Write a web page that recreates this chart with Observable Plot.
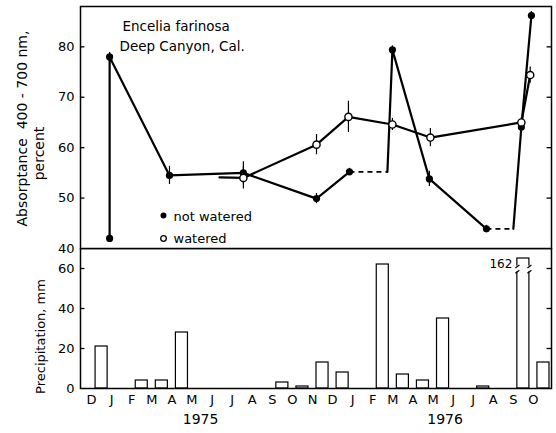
<!DOCTYPE html>
<html><head><meta charset="utf-8">
<script src="https://cdn.jsdelivr.net/npm/d3@7"></script>
<script src="https://cdn.jsdelivr.net/npm/@observablehq/plot@0.6"></script>
<style>
body{margin:0;background:#fff;}
#chart{position:relative;width:556px;height:433px;background:#fff;}
#chart svg{position:absolute;left:0;font-family:"DejaVu Sans",sans-serif;}
</style></head><body><div id="chart"></div>
<script>
// month index: 0 = Dec 1974 ... 22 = Oct 1976
const monthLabels = ["D","J","F","M","A","M","J","J","A","S","O","N","D","J","F","M","A","M","J","J","A","S","O"];
const yearLabels = ["1975","1976"];
const yearMonth = [5.43, 17.6];
const absTicks = [40,50,60,70,80];
const precipTicks = [0,20,40,60];

// monthly precipitation, mm
const precipMonth = [0,2,3,4,9,10,11,12,14,15,16,17,19,21,22];
const precipMM    = [21,4,4,28,3,1,13,8,62,7,4,35,1,162,13];

// absorptance, not watered (filled). measured=0 -> end of dashed gap
const nwMonth    = [0.9,0.9,3.88,7.56,11.2,12.84,14.73,14.98,16.82,19.66,21.0,21.4,21.9];
const nwValue    = [42,78,54.5,55.0,49.9,55.2,55.2,79.4,53.8,43.9,43.9,64.1,86.2];
const nwErr      = [0.8,0.9,1.8,2.2,1.0,0.7,0,0.8,1.5,0.7,0,0.8,0.8];
const nwMeasured = [1,1,1,1,1,1,0,1,1,1,0,1,1];
const nwDashAfter= [0,0,0,0,0,1,0,0,0,1,0,0];

// absorptance, watered (open)
const wMonth    = [6.37,7.56,11.2,12.79,14.98,16.87,21.4,21.84];
const wValue    = [54.1,54.0,60.6,66.1,64.6,62.0,65.0,74.4];
const wErr      = [0,2.2,2.0,3.1,1.2,1.8,1.0,1.6];
const wMeasured = [0,1,1,1,1,1,1,1];

const FONT = '"DejaVu Sans",sans-serif';
const xDomain = [-0.55, 22.9];

let run = 0;
const nw = nwMonth.map((m,i) => {
  const d = {m, v: nwValue[i], e: nwErr[i], meas: nwMeasured[i], run};
  if (nwDashAfter[i]) run++;
  return d;
});
const nwDash = [];
for (let i = 0; i < nw.length-1; i++) if (nwDashAfter[i]) nwDash.push({a: nw[i], b: nw[i+1]});
const w = wMonth.map((m,i) => ({m, v: wValue[i], e: wErr[i], meas: wMeasured[i]}));
const precip = precipMonth.map((m,i) => ({m, v: precipMM[i]}));

const tickLen = 0.22;
const topPlot = Plot.plot({
  width: 556, height: 262, marginLeft: 80, marginRight: 5, marginTop: 6, marginBottom: 14,
  x: {domain: xDomain, axis: null},
  y: {domain: [40, 88], axis: null},
  style: {fontFamily: FONT, fontSize: "13px", color: "black", background: "white"},
  marks: [
    Plot.frame({stroke: "black", strokeWidth: 1.5}),
    Plot.axisY({ticks: absTicks, tickSize: 0, tickPadding: 6, label: null, fontSize: 13}),
    Plot.ruleY(absTicks.slice(1), {y: d => d, x1: xDomain[0], x2: xDomain[0] + tickLen, strokeWidth: 1.3}),
    Plot.ruleY(absTicks.slice(1), {y: d => d, x1: xDomain[1] - tickLen, x2: xDomain[1], strokeWidth: 1.3}),
    // error bars
    Plot.ruleX(nw.filter(d => d.e > 0), {x: "m", y1: d => d.v - d.e, y2: d => d.v + d.e, strokeWidth: 1.2}),
    Plot.ruleX(w.filter(d => d.e > 0), {x: "m", y1: d => d.v - d.e, y2: d => d.v + d.e, strokeWidth: 1.2}),
    // lines
    Plot.line(nw, {x: "m", y: "v", z: "run", stroke: "black", strokeWidth: 2.2, strokeLinejoin: "round"}),
    Plot.link(nwDash, {x1: d => d.a.m, y1: d => d.a.v, x2: d => d.b.m, y2: d => d.b.v, stroke: "black", strokeWidth: 1.6, strokeDasharray: "5,4"}),
    Plot.line(w, {x: "m", y: "v", stroke: "black", strokeWidth: 2.2, strokeLinejoin: "round"}),
    Plot.dot(nw.filter(d => d.meas), {x: "m", y: "v", r: 3.6, fill: "black"}),
    Plot.dot(w.filter(d => d.meas), {x: "m", y: "v", r: 3.6, fill: "white", stroke: "black", strokeWidth: 1.4}),
    // title inside
    Plot.text(["Encelia farinosa"], {frameAnchor: "top-left", dx: 42, dy: 15, textAnchor: "start", fontSize: 13.5}),
    Plot.text(["Deep Canyon, Cal."], {frameAnchor: "top-left", dx: 39, dy: 35, textAnchor: "start", fontSize: 13.5}),
    // legend
    Plot.dot([0], {frameAnchor: "top-left", dx: 83, dy: 209, r: 3, fill: "black"}),
    Plot.text(["not watered"], {frameAnchor: "top-left", dx: 93, dy: 205, textAnchor: "start", fontSize: 13}),
    Plot.dot([0], {frameAnchor: "top-left", dx: 83, dy: 232, r: 2.8, fill: "white", stroke: "black", strokeWidth: 1.3}),
    Plot.text(["watered"], {frameAnchor: "top-left", dx: 93, dy: 227, textAnchor: "start", fontSize: 13}),
    // y title
    Plot.text(["Absorptance  400 - 700 nm,"], {frameAnchor: "left", dx: -58, dy: 1, rotate: -90, textAnchor: "middle", fontSize: 14}),
    Plot.text(["percent"], {frameAnchor: "left", dx: -41, dy: 26, rotate: -90, textAnchor: "middle", fontSize: 14})
  ]
});

const bottomPlot = Plot.plot({
  width: 556, height: 185, marginLeft: 80, marginRight: 5, marginTop: 0, marginBottom: 45,
  x: {domain: xDomain, axis: null},
  y: {domain: [0, 70], axis: null},
  style: {fontFamily: FONT, fontSize: "13px", color: "black", background: "transparent"},
  marks: [
    Plot.rectY(precip.filter(d => d.v > 0), {x1: d => d.m + 0.2, x2: d => d.m + 0.8, y1: 0, y2: d => Math.min(d.v, 65), fill: "white", stroke: "black", strokeWidth: 1.2}),
    // break on the 162 mm bar
    Plot.rectY(precip.filter(d => d.v > 65), {x1: d => d.m + 0.15, x2: d => d.m + 0.85, y1: 58.3, y2: 61.2, fill: "white"}),
    Plot.link(precip.filter(d => d.v > 65).flatMap(d => [d.m + 0.2, d.m + 0.8].flatMap(s => [{s, y1: 60.3, y2: 61.8}, {s, y1: 57.6, y2: 59.1}])),
      {x1: d => d.s - 0.1, x2: d => d.s + 0.1, y1: "y1", y2: "y2", stroke: "black", strokeWidth: 1.2}),
    Plot.text(precip.filter(d => d.v > 65), {x: d => d.m + 0.2, y: 62, text: d => String(d.v), dx: -5, textAnchor: "end", fontSize: 12}),
    Plot.frame({stroke: "black", strokeWidth: 1.5}),
    Plot.axisY({ticks: precipTicks, tickSize: 0, tickPadding: 6, label: null, fontSize: 13}),
    Plot.ruleY(precipTicks.slice(1), {y: d => d, x1: xDomain[0], x2: xDomain[0] + tickLen, strokeWidth: 1.3}),
    Plot.ruleY(precipTicks.slice(1), {y: d => d, x1: xDomain[1] - tickLen, x2: xDomain[1], strokeWidth: 1.3}),
    Plot.axisX({ticks: d3.range(monthLabels.length), tickFormat: i => monthLabels[i], tickSize: 0, tickPadding: 6, label: null, fontSize: 13}),
    Plot.text(yearLabels, {x: (d, i) => yearMonth[i], frameAnchor: "bottom", dy: 35, fontSize: 14}),
    Plot.text(["Precipitation, mm"], {frameAnchor: "left", dx: -40, dy: 18, rotate: -90, textAnchor: "middle", fontSize: 13})
  ]
});

const chart = document.getElementById("chart");
topPlot.style.top = "0px";
bottomPlot.style.top = "248px";
chart.appendChild(topPlot);
chart.appendChild(bottomPlot);
</script></body></html>
